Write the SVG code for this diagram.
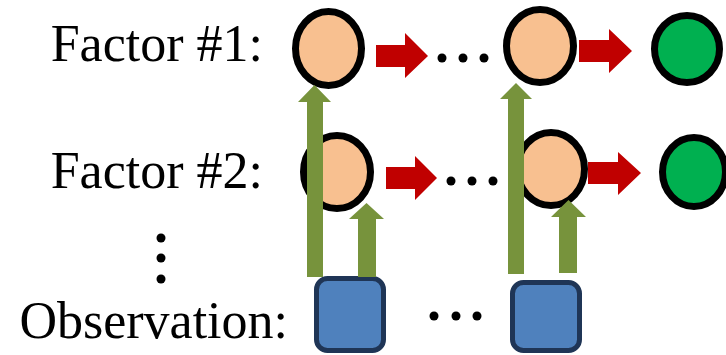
<svg xmlns="http://www.w3.org/2000/svg" width="726" height="355" viewBox="0 0 726 355">
<style>
.hid{fill:#F8C090;stroke:#000;stroke-width:7}
.out{fill:#00B050;stroke:#000;stroke-width:7}
.obs{fill:#4F81BD;stroke:#1F3556;stroke-width:5}
.red{fill:#C00000}
.grn{fill:#77933C}
.dot{fill:#000}
</style>
<rect width="726" height="355" fill="#fff"/>
<g id="labels" font-family="'Times New Roman', 'Liberation Serif', Times, 'DejaVu Serif', serif" font-size="52" fill="#000" text-anchor="end">
<text x="263" y="61">Factor #1:</text>
<text x="263" y="188">Factor #2:</text>
<text x="288" y="338">Observation:</text>
<circle class="dot" cx="161" cy="238" r="4.5"/>
<circle class="dot" cx="161" cy="258" r="4.5"/>
<circle class="dot" cx="161" cy="279" r="4.5"/>
</g>
<g id="f1t1"><ellipse class="hid" cx="328.5" cy="48.5" rx="33" ry="37"/></g>
<g id="f1tn"><ellipse class="hid" cx="540" cy="46" rx="33.5" ry="36.5"/></g>
<g id="f1out"><ellipse class="out" cx="687" cy="49" rx="32.5" ry="33.5"/></g>
<g id="f2t1"><ellipse class="hid" cx="337" cy="172" rx="33.5" ry="36.5"/></g>
<g id="f2tn"><ellipse class="hid" cx="551" cy="169" rx="33.5" ry="36.5"/></g>
<g id="f2out"><ellipse class="out" cx="694" cy="172" rx="31.5" ry="34.5"/></g>
<g id="o1"><rect class="obs" x="316.5" y="278.5" width="67" height="72" rx="11"/></g>
<g id="on"><rect class="obs" x="512.5" y="282.5" width="67" height="68" rx="11"/></g>
<g id="ellipses">
<circle class="dot" cx="442" cy="58" r="4.5"/>
<circle class="dot" cx="463" cy="58" r="4.5"/>
<circle class="dot" cx="484" cy="58" r="4.5"/>
<circle class="dot" cx="451" cy="181" r="4.5"/>
<circle class="dot" cx="472" cy="181" r="4.5"/>
<circle class="dot" cx="493" cy="181" r="4.5"/>
<circle class="dot" cx="434" cy="316" r="4.5"/>
<circle class="dot" cx="456" cy="316" r="4.5"/>
<circle class="dot" cx="477" cy="316" r="4.5"/>
</g>
<g id="connectors">
<polygon class="red" points="376,45 405,45 405,33 428,56 405,78 405,67 376,67"/>
<polygon class="red" points="579,40 609,40 609,29 632,51 609,73 609,62 579,62"/>
<polygon class="red" points="386,167 415,167 415,156 437,178 415,200 415,189 386,189"/>
<polygon class="red" points="588,162 618,162 618,152 641,173 618,195 618,184 588,184"/>
<polygon class="grn" points="307,277 307,102 298,102 314.5,85 331,102 323,102 323,277"/>
<polygon class="grn" points="358,277 358,219 349,219 366.5,203 384,219 376,219 376,277"/>
<polygon class="grn" points="508,274 508,99 500,99 516,83 532,99 524,99 524,274"/>
<polygon class="grn" points="559,273 559,217 551,217 568.5,200 586,217 577,217 577,273"/>
</g>
</svg>
